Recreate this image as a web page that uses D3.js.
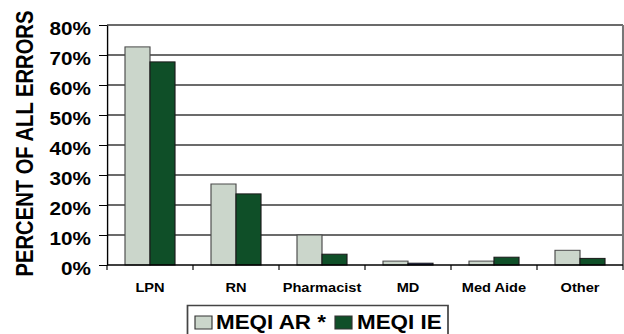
<!DOCTYPE html>
<html>
<head>
<meta charset="utf-8">
<script src="https://cdn.jsdelivr.net/npm/d3@7"></script>
<style>
  html, body { margin: 0; padding: 0; background: #fff; }
  svg { display: block; }
  text { font-family: "Liberation Sans", Arial, Helvetica, sans-serif; font-weight: bold; fill: #000; }
</style>
</head>
<body>
<div id="chart"></div>
<script>
// Share of all medication errors by staff type
const categories = ["LPN", "RN", "Pharmacist", "MD", "Med Aide", "Other"];
const seriesNames = ["MEQI AR *", "MEQI IE"];
const arValues = [72.7, 27.0, 10.0, 1.3, 1.3, 4.9];
const ieValues = [67.7, 23.7, 3.6, 0.6, 2.6, 2.2];
const yTickValues = [0, 10, 20, 30, 40, 50, 60, 70, 80];
const yTickLabels = ["0%", "10%", "20%", "30%", "40%", "50%", "60%", "70%", "80%"];
const yTitle = "PERCENT OF ALL ERRORS";

// Styling
const seriesFill = { "MEQI AR *": "#cbd6cb", "MEQI IE": "#0f4f28" };
const seriesStroke = { "MEQI AR *": "#4a4a4a", "MEQI IE": "#1a1a1a" };
const fillOverride = { "MD|MEQI IE": "#1c2a6e" };

// The drawing is laid out in a horizontally condensed space and stretched to the page width
const S = 1.15;
const pageW = 624, pageH = 334;
const W = pageW / S;
const px = v => v / S;   // horizontal page pixels -> drawing units

const plot = { left: px(107), right: px(623), top: 25, bottom: 265 };

const svg = d3.select("#chart").append("svg")
  .attr("width", pageW).attr("height", pageH)
  .attr("viewBox", `0 0 ${W} ${pageH}`)
  .attr("preserveAspectRatio", "none");

const x0 = d3.scaleBand()
  .domain(categories)
  .range([plot.left, plot.right])
  .paddingInner(36 / 86)
  .paddingOuter(18 / 86);

const x1 = d3.scaleBand()
  .domain(seriesNames)
  .range([0, x0.bandwidth()])
  .padding(0);

const y = d3.scaleLinear().domain([0, 80]).range([plot.bottom, plot.top]);

// Horizontal gridlines
svg.append("g")
  .selectAll("line")
  .data(yTickValues.filter(v => v > 0))
  .join("line")
  .attr("x1", plot.left).attr("x2", plot.right)
  .attr("y1", d => y(d)).attr("y2", d => y(d))
  .attr("stroke", "#3a3a3a").attr("stroke-width", 1.3);

// Right border of the plot area
svg.append("line")
  .attr("x1", plot.right).attr("x2", plot.right)
  .attr("y1", plot.top).attr("y2", plot.bottom)
  .attr("stroke", "#777").attr("stroke-width", 1.8);

// Bars
const rows = categories.map((c, i) => ({ cat: c, vals: [arValues[i], ieValues[i]] }));
const groups = svg.append("g").selectAll("g")
  .data(rows)
  .join("g")
  .attr("transform", d => `translate(${x0(d.cat)},0)`);

groups.selectAll("rect")
  .data(d => seriesNames.map((s, j) => ({ cat: d.cat, series: s, value: d.vals[j] })))
  .join("rect")
  .attr("x", d => x1(d.series))
  .attr("width", x1.bandwidth())
  .attr("y", d => y(d.value))
  .attr("height", d => y(0) - y(d.value))
  .attr("fill", d => fillOverride[d.cat + "|" + d.series] || seriesFill[d.series])
  .attr("stroke", d => seriesStroke[d.series])
  .attr("stroke-width", 1);

// Y axis
const yAxis = d3.axisLeft(y)
  .tickValues(yTickValues)
  .tickFormat((d, i) => yTickLabels[i])
  .tickSize(px(8))
  .tickSizeOuter(0);

const gy = svg.append("g")
  .attr("transform", `translate(${plot.left},0)`)
  .call(yAxis);
gy.select(".domain").attr("stroke", "#000").attr("stroke-width", 1.2);
gy.selectAll(".tick line").attr("stroke", "#000");
gy.selectAll(".tick text")
  .attr("x", -px(16))
  .attr("dy", 9)
  .style("font-size", "18px")
  .style("font-family", "'Liberation Sans', Arial, sans-serif")
  .style("font-weight", "bold")
  .attr("fill", "#000");

// X axis with ticks at category boundaries
const gx = svg.append("g")
  .attr("transform", `translate(0,${plot.bottom})`);
gx.append("line")
  .attr("x1", plot.left).attr("x2", plot.right)
  .attr("stroke", "#000").attr("stroke-width", 1.3);
const boundaries = categories.map(c => x0(c) - x0.step() * x0.paddingOuter())
  .concat([plot.right]);
gx.selectAll("line.tick")
  .data(boundaries)
  .join("line")
  .attr("class", "tick")
  .attr("x1", d => d).attr("x2", d => d)
  .attr("y1", 0).attr("y2", 5)
  .attr("stroke", "#000").attr("stroke-width", 1);
gx.selectAll("text")
  .data(categories)
  .join("text")
  .attr("x", d => x0(d) + x0.bandwidth() / 2)
  .attr("y", 27.5)
  .attr("text-anchor", "middle")
  .style("font-size", "12.7px")
  .text(d => d);

// Y axis title
svg.append("text")
  .attr("transform", `translate(${px(32.5)},${143.5}) rotate(-90)`)
  .attr("text-anchor", "middle")
  .style("font-size", "20.2px")
  .text(yTitle);

// Legend
const legend = svg.append("g");
legend.append("rect")
  .attr("x", px(187.5)).attr("y", 305.5)
  .attr("width", px(448) - px(187.5)).attr("height", 40)
  .attr("fill", "#fff").attr("stroke", "#444").attr("stroke-width", 1.5);

const legendItems = [
  { name: seriesNames[0], sx: px(195), tx: px(216) },
  { name: seriesNames[1], sx: px(335), tx: px(357) }
];
legendItems.forEach(it => {
  legend.append("rect")
    .attr("x", it.sx).attr("y", 316)
    .attr("width", px(17)).attr("height", 13)
    .attr("fill", seriesFill[it.name])
    .attr("stroke", "#333").attr("stroke-width", 1);
  legend.append("text")
    .attr("x", it.tx).attr("y", 329.5)
    .style("font-size", "19.5px")
    .text(it.name);
});
</script>
</body>
</html>
